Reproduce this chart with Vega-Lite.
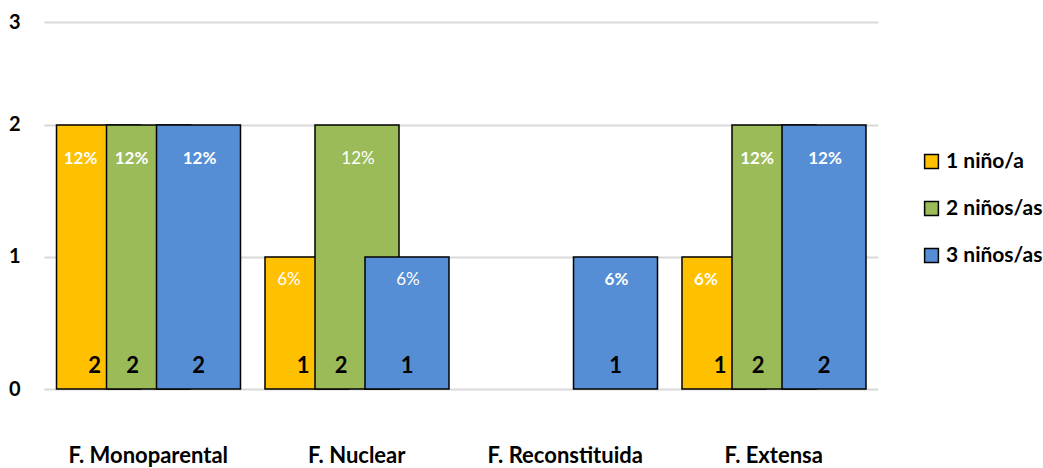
{
  "$schema": "https://vega.github.io/schema/vega-lite/v6.json",
  "width": 834,
  "height": 367,
  "autosize": {"type": "none"},
  "padding": {"left": 44, "top": 22, "right": 165, "bottom": 79},
  "background": "white",
  "config": {
    "view": {"stroke": null},
    "font": "Lato",
    "text": {"font": "Lato"}
  },
  "data": {
    "values": [
      {"categoria": "F. Monoparental", "serie": "1 niño/a", "n": 2, "pct": "12%"},
      {"categoria": "F. Monoparental", "serie": "2 niños/as", "n": 2, "pct": "12%"},
      {"categoria": "F. Monoparental", "serie": "3 niños/as", "n": 2, "pct": "12%"},
      {"categoria": "F. Nuclear", "serie": "1 niño/a", "n": 1, "pct": "6%"},
      {"categoria": "F. Nuclear", "serie": "2 niños/as", "n": 2, "pct": "12%"},
      {"categoria": "F. Nuclear", "serie": "3 niños/as", "n": 1, "pct": "6%"},
      {"categoria": "F. Reconstituida", "serie": "3 niños/as", "n": 1, "pct": "6%"},
      {"categoria": "F. Extensa", "serie": "1 niño/a", "n": 1, "pct": "6%"},
      {"categoria": "F. Extensa", "serie": "2 niños/as", "n": 2, "pct": "12%"},
      {"categoria": "F. Extensa", "serie": "3 niños/as", "n": 2, "pct": "12%"}
    ]
  },
  "encoding": {
    "x": {
      "field": "categoria",
      "type": "nominal",
      "sort": ["F. Monoparental", "F. Nuclear", "F. Reconstituida", "F. Extensa"],
      "scale": {"paddingInner": 0, "paddingOuter": 0},
      "axis": {
        "title": null,
        "labelAngle": 0,
        "domain": false,
        "ticks": false,
        "grid": false,
        "labelFont": "Lato",
        "labelFontSize": 22,
        "labelFontWeight": "bold",
        "labelColor": "black",
        "labelPadding": 56
      }
    },
    "xOffset": {
      "field": "serie",
      "type": "nominal",
      "sort": ["1 niño/a", "2 niños/as", "3 niños/as"],
      "scale": {"range": [29.5, 179.5], "paddingInner": 0, "paddingOuter": 0}
    },
    "y": {
      "field": "n",
      "type": "quantitative",
      "scale": {"domain": [0, 2.78], "nice": false},
      "axis": {
        "title": null,
        "values": [0, 1, 2, 2.78],
        "labelExpr": "datum.value > 2.5 ? '3' : format(datum.value, 'd')",
        "domain": false,
        "ticks": false,
        "gridColor": "#d9d9d9",
        "gridWidth": 2,
        "labelFont": "Lato",
        "labelFontSize": 20,
        "labelFontWeight": "bold",
        "labelColor": "black",
        "labelPadding": 24
      }
    }
  },
  "layer": [
    {
      "mark": {"type": "bar", "width": 84, "stroke": "black", "strokeWidth": 1.5},
      "encoding": {
        "color": {
          "field": "serie",
          "type": "nominal",
          "scale": {
            "domain": ["1 niño/a", "2 niños/as", "3 niños/as"],
            "range": ["#FFC000", "#9BBB59", "#558ED5"]
          },
          "legend": {
            "title": null,
            "orient": "none",
            "legendX": 877,
            "legendY": 129,
            "symbolType": "square",
            "symbolSize": 190,
            "symbolStrokeColor": "black",
            "symbolStrokeWidth": 1.5,
            "labelFont": "Lato",
            "labelFontSize": 21,
            "labelFontWeight": "bold",
            "labelColor": "black",
            "rowPadding": 25,
            "labelOffset": 4
          }
        }
      }
    },
    {
      "mark": {
        "type": "text",
        "color": "white",
        "fontSize": 17,
        "baseline": "top",
        "fontWeight": {"expr": "datum.categoria == 'F. Nuclear' ? 'normal' : 'bold'"},
        "dx": {"expr": "datum.serie == '1 niño/a' ? -18 : (datum.serie == '2 niños/as' && datum.categoria != 'F. Nuclear') ? -17 : 1"},
        "dy": {"expr": "datum.n == 2 ? 26 : 15"}
      },
      "encoding": {"text": {"field": "pct"}}
    },
    {
      "mark": {
        "type": "text",
        "color": "black",
        "fontSize": 22,
        "fontWeight": "bold",
        "baseline": "alphabetic",
        "dx": {"expr": "datum.serie == '1 niño/a' ? -4 : datum.serie == '2 niños/as' ? -16 : 0"},
        "dy": -16
      },
      "encoding": {
        "text": {"field": "n"},
        "y": {"datum": 0}
      }
    }
  ]
}
